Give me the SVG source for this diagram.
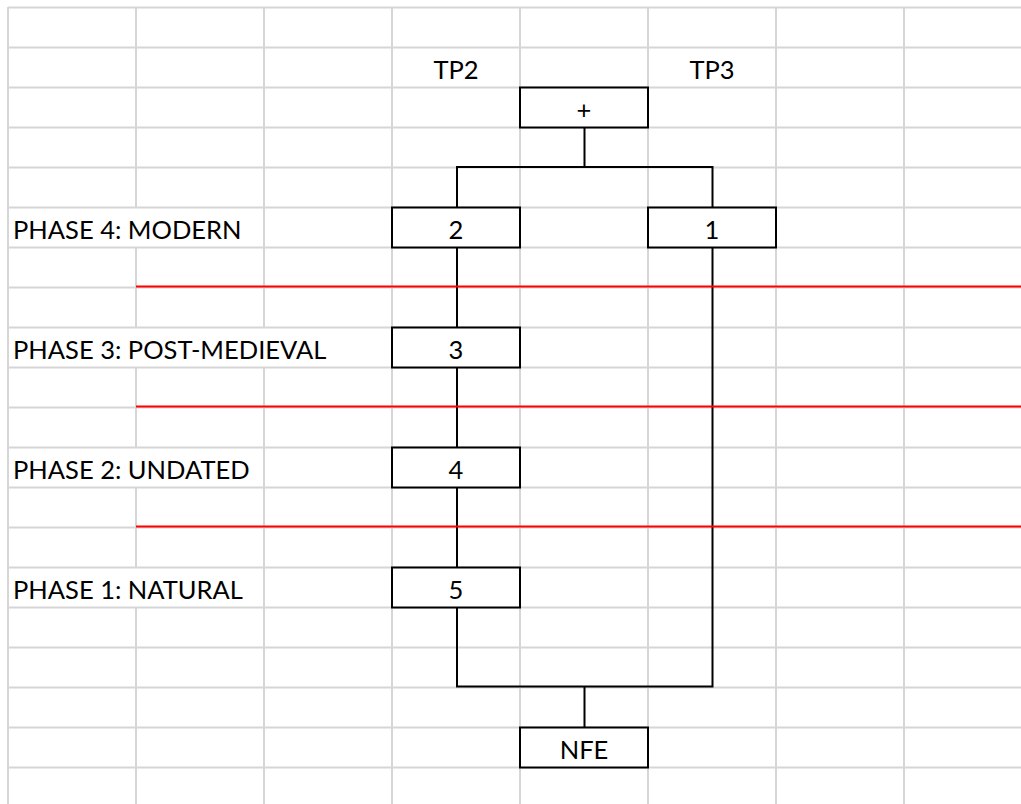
<svg xmlns="http://www.w3.org/2000/svg" width="1021" height="804" viewBox="0 0 1021 804">
  <style>
    .grid { stroke: #d6d6d6; stroke-width: 2; fill: none; }
    .phase { stroke: #ff0000; stroke-width: 2; fill: none; }
    .link { stroke: #000000; stroke-width: 2; fill: none; }
    .box { fill: #ffffff; stroke: #000000; stroke-width: 2; }
    text { font-family: Lato, "Open Sans", "Liberation Sans", sans-serif; font-size: 25.5px; fill: #000000; }
    .c { text-anchor: middle; }
  </style>
  <rect width="1021" height="804" fill="#ffffff"/>

  <!-- spreadsheet gridlines -->
  <g id="grid" class="grid">
    <path d="M8 7.5H1021 M8 47.5H1021 M8 87.5H1021 M8 127.5H1021 M8 167.5H1021 M8 207.5H1021 M8 247.5H1021 M8 287.5H1021 M8 327.5H1021 M8 367.5H1021 M8 407.5H1021 M8 447.5H1021 M8 487.5H1021 M8 527.5H1021 M8 567.5H1021 M8 607.5H1021 M8 647.5H1021 M8 687.5H1021 M8 727.5H1021 M8 767.5H1021"/>
    <path d="M8 7V804"/>
    <path d="M136 7V207.5 M136 247.5V327.5 M136 367.5V447.5 M136 487.5V567.5 M136 607.5V804"/>
    <path d="M264 7V327.5 M264 367.5V804"/>
    <path d="M392 7V804 M520 7V804 M648 7V804 M776 7V804 M904 7V804"/>
  </g>

  <!-- column headings and phase labels -->
  <g id="labels">
    <text class="c" x="456" y="79">TP2</text>
    <text class="c" x="712" y="79">TP3</text>
    <text x="13" y="239">PHASE 4: MODERN</text>
    <text x="13" y="359">PHASE 3: POST-MEDIEVAL</text>
    <text x="13" y="479">PHASE 2: UNDATED</text>
    <text x="13" y="599">PHASE 1: NATURAL</text>
  </g>

  <!-- stratigraphic links -->
  <g id="connectors" class="link">
    <path d="M584.5 127.5V167 M457 207.5V167H712.5V207.5"/>
    <path d="M457 247.5V327.5 M457 367.5V447.5 M457 487.5V567.5"/>
    <path d="M457 607.5V686.5H712.5V247.5 M584.5 686.5V727.5"/>
  </g>

  <!-- phase boundaries -->
  <g id="phase-lines" class="phase">
    <path d="M136 286.5H1021 M136 406.5H1021 M136 526.5H1021"/>
  </g>

  <g id="node-top">
    <rect class="box" x="520" y="87.5" width="128" height="40"/>
    <text class="c" x="584" y="119">+</text>
  </g>
  <g id="node-2">
    <rect class="box" x="392" y="207.5" width="128" height="40"/>
    <text class="c" x="456" y="239">2</text>
  </g>
  <g id="node-1">
    <rect class="box" x="648" y="207.5" width="128" height="40"/>
    <text class="c" x="712" y="239">1</text>
  </g>
  <g id="node-3">
    <rect class="box" x="392" y="327.5" width="128" height="40"/>
    <text class="c" x="456" y="359">3</text>
  </g>
  <g id="node-4">
    <rect class="box" x="392" y="447.5" width="128" height="40"/>
    <text class="c" x="456" y="479">4</text>
  </g>
  <g id="node-5">
    <rect class="box" x="392" y="567.5" width="128" height="40"/>
    <text class="c" x="456" y="599">5</text>
  </g>
  <g id="node-nfe">
    <rect class="box" x="520" y="727.5" width="128" height="40"/>
    <text class="c" x="584" y="759">NFE</text>
  </g>
</svg>
